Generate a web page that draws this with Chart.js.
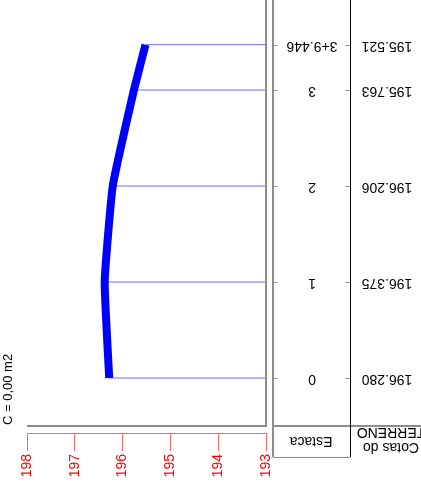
<!DOCTYPE html>
<html>
<head>
<meta charset="utf-8">
<script src="https://cdn.jsdelivr.net/npm/chart.js@4"></script>
<style>
  html, body { margin: 0; padding: 0; background: #fff; }
  canvas { display: block; }
</style>
</head>
<body>
<canvas id="perfil" width="421" height="491"></canvas>
<script>
// Perfil do terreno (desenho girado)
var estacas = ['0', '1', '2', '3', '3+9.446'];
var distancias = [0, 20, 40, 60, 69.446];
var cotasTerreno = [196.280, 196.375, 196.206, 195.763, 195.521];
var cotasTexto = ['196.280', '196.375', '196.206', '195.763', '195.521'];
var cotaMin = 193;
var cotaMax = 198;
var area = 'C = 0,00 m2';

var FONT = '"Liberation Sans", Arial, sans-serif';

var terreno = distancias.map(function(d, i) {
    return { x: cotasTerreno[i], y: d };
});

// linhas de chamada de cada estaca ate a cota de referencia
var chamadas = distancias.map(function(d, i) {
    return {
        data: [{ x: cotasTerreno[i], y: d }, { x: cotaMin, y: d }],
        borderColor: 'rgba(60,60,255,0.75)',
        borderWidth: 1,
        pointRadius: 0,
        showLine: true,
        order: 1
    };
});

function upsideDown(ctx, text, x, y) {
    ctx.save();
    ctx.translate(x, y);
    ctx.rotate(Math.PI);
    ctx.fillText(text, 0, 0);
    ctx.restore();
}

var moldura = {
    id: 'moldura',
    afterDraw: function(chart) {
        var ctx = chart.ctx;
        var ca = chart.chartArea;
        var ys = chart.scales.y;
        var base = ca.bottom - 7;      // linha inferior do desenho
        var colA = ca.right + 7;       // coluna Estaca
        var colB = 350;                // coluna Cotas
        var fundo = base + 31;

        ctx.save();
        ctx.strokeStyle = '#8c8c8c';
        ctx.lineWidth = 2;
        ctx.beginPath();
        ctx.moveTo(ca.left, base); ctx.lineTo(ca.right, base);
        ctx.moveTo(ca.right, 0); ctx.lineTo(ca.right, base + 1);
        ctx.moveTo(colA, 0); ctx.lineTo(colA, fundo);
        ctx.moveTo(colA, base); ctx.lineTo(chart.width, base);
        ctx.stroke();

        ctx.lineWidth = 1;
        ctx.beginPath();
        ctx.moveTo(colA, fundo + 0.5); ctx.lineTo(colB, fundo + 0.5);
        ctx.stroke();

        ctx.strokeStyle = '#000';
        ctx.beginPath();
        ctx.moveTo(colB + 0.5, 0); ctx.lineTo(colB + 0.5, fundo);
        ctx.stroke();

        // marcas e textos das estacas
        ctx.fillStyle = '#000';
        ctx.font = '14px ' + FONT;
        ctx.textAlign = 'center';
        ctx.textBaseline = 'middle';
        ctx.strokeStyle = '#999';
        distancias.forEach(function(d, i) {
            var py = Math.round(ys.getPixelForValue(d)) + 0.5;
            ctx.beginPath();
            ctx.moveTo(colA, py); ctx.lineTo(colA + 5, py);
            ctx.moveTo(colB - 5, py); ctx.lineTo(colB, py);
            ctx.stroke();
            upsideDown(ctx, estacas[i], 312, py);
            upsideDown(ctx, cotasTexto[i], 387, py);
        });

        upsideDown(ctx, 'Estaca', 311, base + 15);
        upsideDown(ctx, 'Cotas do', 391, base + 21);
        upsideDown(ctx, 'TERRENO', 391, base + 6);

        // area
        ctx.save();
        ctx.translate(8, base - 1);
        ctx.rotate(-Math.PI / 2);
        ctx.textAlign = 'left';
        ctx.font = '13px ' + FONT;
        ctx.fillText(area, 0, 0);
        ctx.restore();
        ctx.restore();
    }
};

var ctx = document.getElementById('perfil').getContext('2d');
new Chart(ctx, {
    type: 'scatter',
    data: {
        datasets: [{
            data: terreno,
            showLine: true,
            borderColor: '#0000ff',
            borderWidth: 8,
            pointRadius: 0,
            tension: 0.12,
            order: 0
        }].concat(chamadas)
    },
    options: {
        responsive: false,
        animation: false,
        layout: { padding: { left: 27, right: 155, top: 0, bottom: 0 } },
        plugins: { legend: { display: false }, tooltip: { enabled: false } },
        scales: {
            x: {
                type: 'linear',
                position: 'bottom',
                reverse: true,
                min: cotaMin,
                max: cotaMax,
                afterFit: function(s) { s.height = 58; },
                ticks: {
                    stepSize: 1,
                    color: '#ff0000',
                    font: { family: FONT, size: 14 },
                    minRotation: 90,
                    maxRotation: 90,
                    padding: 3
                },
                grid: { drawOnChartArea: false, drawTicks: true, tickLength: 18, color: '#ff6666' },
                border: { color: '#ff6666' }
            },
            y: {
                type: 'linear',
                display: false,
                min: -11.46,
                max: 78.75
            }
        }
    },
    plugins: [moldura]
});
</script>
</body>
</html>
